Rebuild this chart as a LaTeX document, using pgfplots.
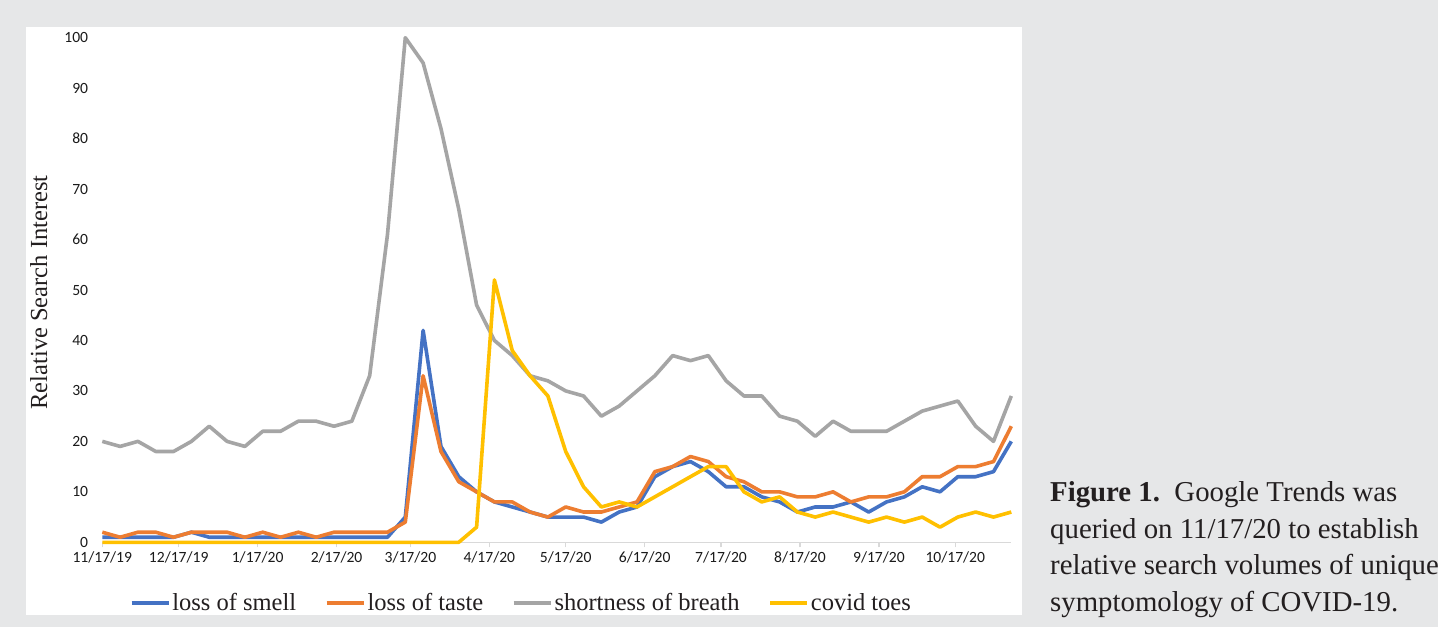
\documentclass[border=0pt]{standalone}
\usepackage{fontspec}
\setmainfont{Liberation Serif}
\newfontfamily\carlito{Carlito}
\usepackage{pgfplots}
\pgfplotsset{compat=1.18}
\usepackage{pgfplotstable}
\definecolor{bg}{HTML}{E6E7E8}
\definecolor{cblue}{HTML}{4472C4}
\definecolor{corange}{HTML}{ED7D31}
\definecolor{cgray}{HTML}{A5A5A5}
\definecolor{cyellow}{HTML}{FFC000}
\definecolor{axgray}{HTML}{D9D9D9}
\definecolor{txt}{HTML}{231F20}
\definecolor{tickc}{HTML}{1A1A1A}
\pgfplotstableread{
x smell taste sob toes
0 1 2 20 0
7 1 1 19 0
14 1 2 20 0
21 1 2 18 0
28 1 1 18 0
35 2 2 20 0
42 1 2 23 0
49 1 2 20 0
56 1 1 19 0
63 1 2 22 0
70 1 1 22 0
77 1 2 24 0
84 1 1 24 0
91 1 2 23 0
98 1 2 24 0
105 1 2 33 0
112 1 2 61 0
119 5 4 100 0
126 42 33 95 0
133 19 18 82 0
140 13 12 66 0
147 10 10 47 3
154 8 8 40 52
161 7 8 37 38
168 6 6 33 33
175 5 5 32 29
182 5 7 30 18
189 5 6 29 11
196 4 6 25 7
203 6 7 27 8
210 7 8 30 7
217 13 14 33 9
224 15 15 37 11
231 16 17 36 13
238 14 16 37 15
245 11 13 32 15
252 11 12 29 10
259 9 10 29 8
266 8 10 25 9
273 6 9 24 6
280 7 9 21 5
287 7 10 24 6
294 8 8 22 5
301 6 9 22 4
308 8 9 22 5
315 9 10 24 4
322 11 13 26 5
329 10 13 27 3
336 13 15 28 5
343 13 15 23 6
350 14 16 20 5
357 20 23 29 6
}\data
\begin{document}
\begin{tikzpicture}
\useasboundingbox (0pt,0pt) rectangle (1438pt,627pt);
\fill[bg] (0pt,0pt) rectangle (1438pt,627pt);
\fill[white] (26pt,12pt) rectangle (1022pt,600pt);
\begin{axis}[
  at={(102.3pt,84.7pt)}, anchor=south west,
  scale only axis, width=909pt, height=504.6pt,
  xmin=0, xmax=357, ymin=0, ymax=100,
  clip=false,
  axis lines*=left,
  x axis line style={-, draw=axgray, line width=1.5pt},
  y axis line style={draw=none},
  xtick={0,30,61,92,121,152,182,213,243,274,305,335},
  xticklabels={11/17/19,12/17/19,1/17/20,2/17/20,3/17/20,4/17/20,5/17/20,6/17/20,7/17/20,8/17/20,9/17/20,10/17/20},
  ytick={0,10,...,100},
  xtick align=outside,
  major tick length=5pt,
  xtick style={draw=axgray, line width=1.2pt},
  ytick style={draw=none},
  /pgf/number format/assume math mode=true,
  xticklabel style={font=\carlito\fontsize{15.6}{18}\selectfont, text=tickc, inner sep=1.5pt, yshift=-3pt},
  yticklabel style={font=\carlito\fontsize{15.6}{18}\selectfont, text=tickc, inner sep=0pt, xshift=-14pt},
  ylabel={Relative Search Interest},
  ylabel style={at={(axis description cs:-0.07,0.495)}, anchor=center, font=\fontsize{24.5}{28}\selectfont, text=txt},
  legend columns=4,
  legend style={at={(axis description cs:0.461,-0.120)}, anchor=center, draw=none, fill=none,
    font=\fontsize{24.5}{28}\selectfont,
    /tikz/every even column/.append style={column sep=26.7pt},
    nodes={inner xsep=2pt, inner ysep=0pt, text=txt}},
  legend image code/.code={\draw[#1, line cap=butt] (0pt,0pt) -- (37pt,0pt);},
  every axis plot/.append style={line width=3.6pt, line join=round},
]
\addplot[cblue] table[x=x,y=smell]{\data};
\addlegendentry{loss of smell}
\addplot[corange] table[x=x,y=taste]{\data};
\addlegendentry{loss of taste}
\addplot[cgray] table[x=x,y=sob]{\data};
\addlegendentry{shortness of breath}
\addplot[cyellow] table[x=x,y=toes]{\data};
\addlegendentry{covid toes}
\end{axis}
\begin{scope}[every node/.style={anchor=base west, inner sep=0pt, text=txt, font=\fontsize{28.8}{34}\selectfont}]
\node at (1050pt,125.5pt) {\textbf{Figure 1.}\ \ Google Trends was};
\node at (1050pt,88.8pt) {queried on 11/17/20 to establish};
\node at (1050pt,52.1pt) {relative search volumes of unique};
\node at (1050pt,15.4pt) {symptomology of COVID-19.};
\end{scope}
\end{tikzpicture}
\end{document}
